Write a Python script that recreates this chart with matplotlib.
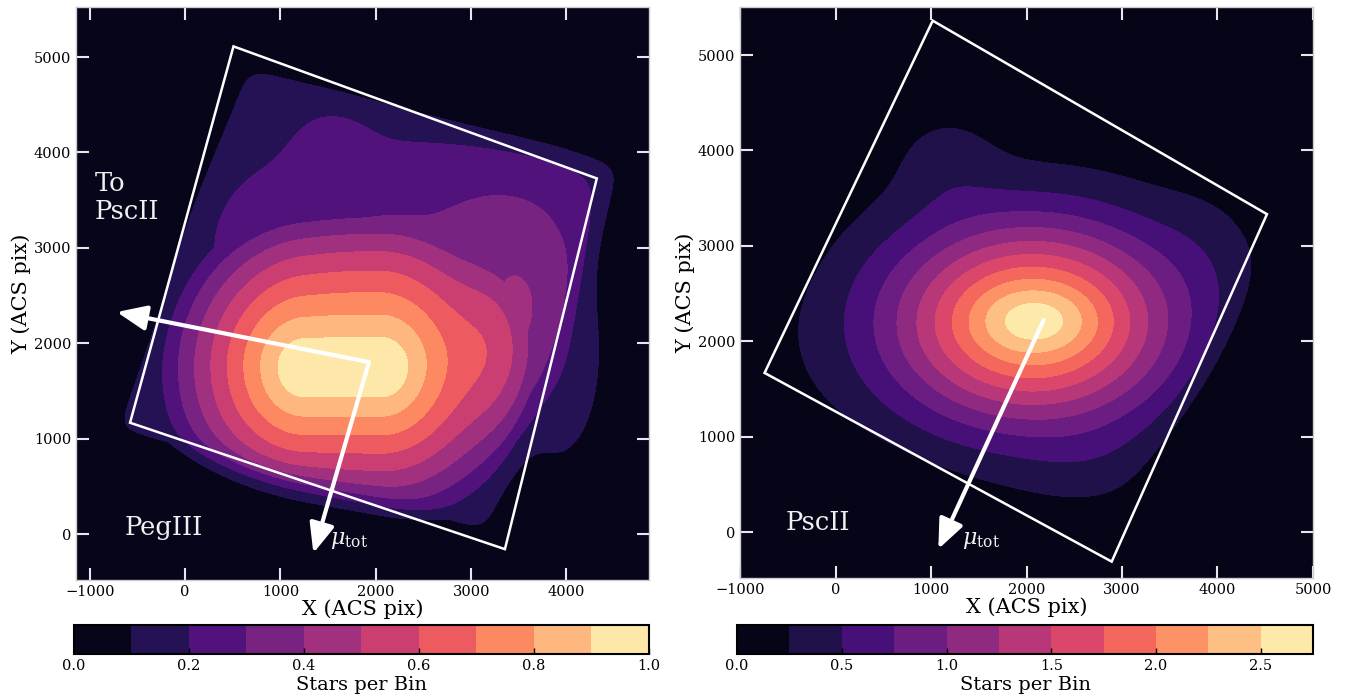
import numpy as np
from matplotlib import pyplot as plt
from matplotlib.patches import Polygon

plt.rcParams['font.family'] = ['DejaVu Serif']
plt.rcParams['mathtext.fontset'] = 'dejavuserif'

# ---- 数据：等值面层级 ----
peg_levels = [0.0, 0.1, 0.2, 0.3, 0.4, 0.5, 0.6, 0.7, 0.8, 0.9, 1.0]
psc_levels = [0.0, 0.25, 0.5, 0.75, 1.0, 1.25, 1.5, 1.75, 2.0, 2.25, 2.5, 2.75]
peg_cbar_ticks = [0.0, 0.2, 0.4, 0.6, 0.8, 1.0]
psc_cbar_ticks = [0.0, 0.5, 1.0, 1.5, 2.0, 2.5]

# ---- ACS 视场四角 (X, Y) ----
peg_fov_x = [507, 4318, 3354, -578]
peg_fov_y = [5112, 3728, -157, 1168]
psc_fov_x = [1018, 4518, 2892, -743]
psc_fov_y = [5360, 3332, -310, 1668]

# ---- PegIII 核心：平顶段两端 x、中心 y、峰值、每像素下降、圆滑尺度 ----
peg_core_x = [1250, 2050]
peg_core_y = 1730
peg_core_peak = 0.92
peg_core_slope = 0.00058
peg_core_soft = 150
peg_core_down = 0.9

# ---- 密度分量: x, y, sx, sy, amp ----
peg_comp_x = [1900, 3300, 1550, 3450, 3300]
peg_comp_y = [3100, 1950, 4050, 2800, 3600]
peg_comp_sx = [1100, 300, 280, 450, 700]
peg_comp_sy = [650, 700, 300, 450, 400]
peg_comp_amp = [0.15, 0.15, 0.06, 0.06, 0.06]
peg_base_amp = 0.15
# 视场右侧外溢部分
peg_halo_x = [3900]
peg_halo_y = [1900]
peg_halo_sx = [400]
peg_halo_sy = [950]
peg_halo_amp = [0.18]

psc_comp_x = [2100, 2070, 1950, 1150, 2700, 3900]
psc_comp_y = [2220, 2200, 2150, 3950, 650, 3000]
psc_comp_sx = [420, 1000, 1700, 400, 550, 400]
psc_comp_sy = [230, 720, 1080, 380, 350, 500]
psc_comp_amp = [0.35, 1.9, 0.42, 0.22, 0.12, 0.1]

# ---- 运动方向箭头 ----
peg_origin = (1928, 1803)
peg_to_psc = (-717, 2328)
peg_mu = (1345, -199)
psc_origin = (2180, 2223)
psc_mu = (1077, -178)


def soft_box(X, Y, fx, fy, grow, edge):
    """旋转视场的软边掩膜。"""
    fx = np.asarray(fx, float)
    fy = np.asarray(fy, float)
    cx, cy = fx.mean(), fy.mean()
    u = np.array([fx[1] - fx[0], fy[1] - fy[0]])
    v = np.array([fx[3] - fx[0], fy[3] - fy[0]])
    hu, hv = np.linalg.norm(u) / 2 + grow, np.linalg.norm(v) / 2 + grow
    u, v = u / np.linalg.norm(u), v / np.linalg.norm(v)
    a = (X - cx) * u[0] + (Y - cy) * u[1]
    b = (X - cx) * v[0] + (Y - cy) * v[1]
    s1 = 0.5 * (1 + np.tanh((hu - np.abs(a)) / edge))
    s2 = 0.5 * (1 + np.tanh((hv - np.abs(b)) / edge))
    return s1 * s2


def blobs(X, Y, xs, ys, sxs, sys_, amps):
    Z = np.zeros_like(X)
    for x0, y0, sx, sy, a in zip(xs, ys, sxs, sys_, amps):
        Z += a * np.exp(-((X - x0) ** 2 / (2 * sx ** 2) + (Y - y0) ** 2 / (2 * sy ** 2)))
    return Z


def soft_cone(X, Y, xr, yc, peak, slope, soft, down):
    """平顶核心：到水平线段的距离线性衰减。"""
    half = (xr[1] - xr[0]) / 2
    dx = np.maximum(0, np.abs(X - (xr[0] + xr[1]) / 2) - half)
    dy = Y - yc
    dy = np.where(dy < 0, dy * down, dy)
    return np.maximum(peak - slope * np.sqrt(soft ** 2 + dx ** 2 + dy ** 2), 0)


gx = np.linspace(-1300, 5100, 400)
gy = np.linspace(-600, 5700, 400)
X, Y = np.meshgrid(gx, gy)

peg_inner = (soft_cone(X, Y, peg_core_x, peg_core_y, peg_core_peak, peg_core_slope,
                       peg_core_soft, peg_core_down)
             + blobs(X, Y, peg_comp_x, peg_comp_y, peg_comp_sx, peg_comp_sy, peg_comp_amp))
peg_z = (peg_base_amp * soft_box(X, Y, peg_fov_x, peg_fov_y, 0, 150)
         + peg_inner * soft_box(X, Y, peg_fov_x, peg_fov_y, 150, 250)
         + blobs(X, Y, peg_halo_x, peg_halo_y, peg_halo_sx, peg_halo_sy, peg_halo_amp))
peg_z = np.clip(peg_z, 0, peg_levels[-1] - 1e-3)

psc_z = (blobs(X, Y, psc_comp_x, psc_comp_y, psc_comp_sx, psc_comp_sy, psc_comp_amp)
         * soft_box(X, Y, psc_fov_x, psc_fov_y, 150, 200))
psc_z = np.clip(psc_z, 0, psc_levels[-1] - 1e-3)

fig = plt.figure(figsize=(13.45, 6.96), dpi=100)
ax1 = fig.add_axes([0.0565, 0.1667, 0.426, 0.8233])
ax2 = fig.add_axes([0.5502, 0.1695, 0.426, 0.8204])
cax1 = fig.add_axes([0.055, 0.0603, 0.4275, 0.0417])
cax2 = fig.add_axes([0.548, 0.0603, 0.4283, 0.0417])


def panel(ax, cax, z, levels, fx, fy, ticks, xlim, ylim, xticks):
    cs = ax.contourf(X, Y, z, levels=levels, cmap='magma')
    ax.add_patch(Polygon(np.column_stack([fx, fy]), closed=True, fill=False,
                         edgecolor='white', linewidth=1.8, zorder=3))
    ax.set_xlim(*xlim)
    ax.set_ylim(*ylim)
    ax.set_xticks(xticks)
    ax.set_yticks([0, 1000, 2000, 3000, 4000, 5000])
    ax.tick_params(direction='in', top=True, right=True, length=9, width=1.5,
                   color='#e8e8e8', labelsize=10.5)
    for sp in ax.spines.values():
        sp.set_color('#cccccc')
        sp.set_linewidth(1.0)
    ax.set_xlabel('X (ACS pix)', fontsize=15, labelpad=0)
    ax.set_ylabel('Y (ACS pix)', fontsize=15, labelpad=2)

    cb = fig.colorbar(cs, cax=cax, orientation='horizontal')
    cb.set_ticks(ticks)
    cb.ax.tick_params(direction='in', length=4, width=1, labelsize=10.5)
    cb.outline.set_linewidth(1.5)
    cb.outline.set_edgecolor('black')
    cb.set_label('Stars per Bin', fontsize=14, labelpad=2)


def arrow(ax, start, end):
    ax.annotate('', xy=end, xytext=start,
                arrowprops=dict(arrowstyle='-|>,head_length=0.9,head_width=0.38',
                                color='white', lw=3, mutation_scale=20,
                                shrinkA=0, shrinkB=0), zorder=4)


panel(ax1, cax1, peg_z, peg_levels, peg_fov_x, peg_fov_y, peg_cbar_ticks,
      (-1145, 4865), (-480, 5525), [-1000, 0, 1000, 2000, 3000, 4000])
panel(ax2, cax2, psc_z, psc_levels, psc_fov_x, psc_fov_y, psc_cbar_ticks,
      (-1000, 5000), (-482, 5503), [-1000, 0, 1000, 2000, 3000, 4000, 5000])

arrow(ax1, peg_origin, peg_to_psc)
arrow(ax1, peg_origin, peg_mu)
arrow(ax2, psc_origin, psc_mu)

txt = dict(color='#f0f0f0', fontsize=18.5, va='center', ha='left', zorder=5)
ax1.text(-950, 3530, 'To\nPscII', linespacing=1.15, **txt)
ax1.text(-640, 70, 'PegIII', **txt)
ax2.text(-518, 95, 'PscII', **txt)
ax1.text(1516, -62, r'$\mu_{\rm tot}$', color='#f0f0f0', fontsize=16,
         va='center', ha='left', zorder=5)
ax2.text(1324, -83, r'$\mu_{\rm tot}$', color='#f0f0f0', fontsize=16,
         va='center', ha='left', zorder=5)

fig.savefig('out.png', dpi=100, facecolor='white')
